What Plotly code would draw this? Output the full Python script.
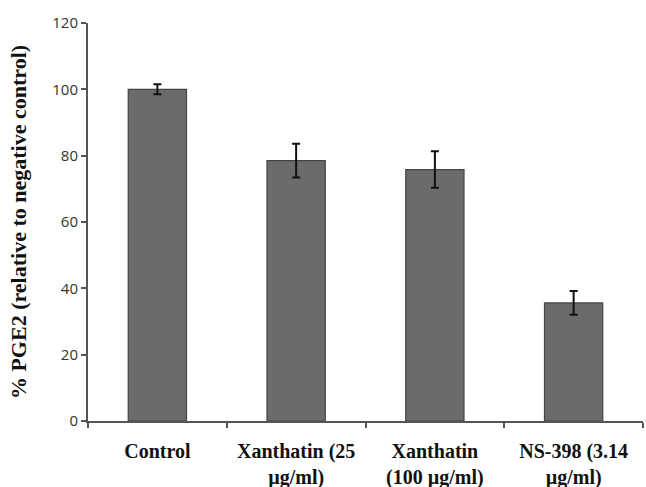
import plotly.graph_objects as go

categories = ["Control", "Xanthatin (25<br>µg/ml)", "Xanthatin<br>(100 µg/ml)", "NS-398 (3.14<br>µg/ml)"]
values = [100, 78.5, 75.8, 35.6]
errors = [1.5, 5.1, 5.5, 3.6]
y_ticks = [0, 20, 40, 60, 80, 100, 120]

fig = go.Figure()
fig.add_trace(go.Bar(
    x=categories, y=values,
    width=0.42,
    marker=dict(color="#6b6b6b", line=dict(color="#454545", width=1.2)),
    error_y=dict(type="data", array=errors, visible=True, color="#111111", thickness=2, width=4),
))

serif = "Liberation Serif, Times New Roman, serif"
fig.update_layout(
    width=646, height=487,
    margin=dict(l=88, r=3, t=23, b=66),
    paper_bgcolor="white", plot_bgcolor="white",
    showlegend=False,
    xaxis=dict(
        automargin=False,
        showline=True, linecolor="#555555", linewidth=2,
        ticks="outside", tickson="boundaries", ticklen=5, tickwidth=2, tickcolor="#555555",
        tickfont=dict(family=serif, size=20, color="#111111", weight="bold"),
        ticklabelstandoff=11,
        showgrid=False,
    ),
    yaxis=dict(
        automargin=False,
        range=[0, 120], tickvals=y_ticks,
        showline=True, linecolor="#555555", linewidth=2,
        ticks="outside", ticklen=5, tickwidth=2, tickcolor="#555555",
        tickfont=dict(family="Open Sans, Liberation Sans, sans-serif", size=15, color="#333333"),
        showgrid=False, zeroline=False,
        title=dict(text="% PGE2 (relative to negative control)",
                   font=dict(family=serif, size=22, color="#111111", weight="bold"),
                   standoff=20),
    ),
)
fig.write_html("out.html")
